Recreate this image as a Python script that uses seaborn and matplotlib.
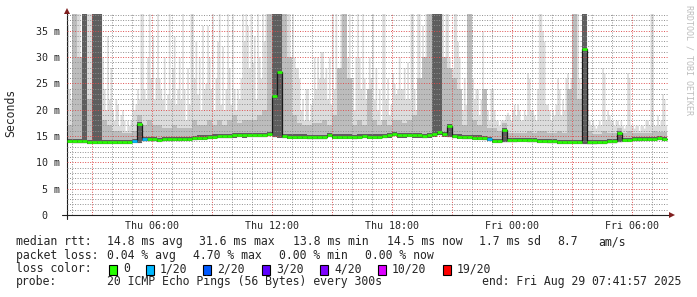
import numpy as np
import pandas as pd
import matplotlib
matplotlib.use("Agg")
import matplotlib.pyplot as plt
from matplotlib.ticker import MultipleLocator, FixedLocator
from matplotlib.patches import Rectangle
import seaborn as sns

# ---------------- data (ms; 15-minute steps from Thu 01:43) ----------------
start_hour = 1.72
step_hours = 0.25
sub_steps = 3          # max-ping streaks are read at 5-minute resolution

med = [
    14.1, 14.0, 14.0, 14.0, 13.9, 13.9, 13.9, 13.9, 13.9, 13.9,
    13.9, 13.9, 13.9, 14.1, 17.3, 14.4, 14.4, 14.4, 14.3, 14.4,
    14.4, 14.5, 14.4, 14.5, 14.5, 14.6, 14.7, 14.7, 14.8, 14.9,
    15.0, 15.0, 15.0, 15.1, 15.2, 15.1, 15.2, 15.2, 15.2, 15.2,
    15.4, 22.6, 27.1, 15.0, 14.9, 14.9, 14.9, 14.9, 14.8, 14.8,
    14.8, 14.8, 15.2, 14.9, 14.9, 14.9, 14.9, 14.8, 14.9, 15.0,
    14.9, 14.9, 14.9, 15.0, 15.1, 15.4, 15.1, 15.1, 15.2, 15.1,
    15.1, 15.0, 15.1, 15.3, 15.8, 15.3, 16.9, 15.0, 14.9, 14.8,
    14.8, 14.7, 14.7, 14.6, 14.5, 14.1, 14.1, 16.1, 14.2, 14.2,
    14.3, 14.3, 14.2, 14.2, 14.1, 14.1, 14.0, 14.0, 13.9, 13.9,
    13.9, 13.9, 13.9, 31.6, 13.8, 13.8, 13.9, 13.9, 14.0, 14.0,
    15.6, 14.3, 14.3, 14.4, 14.4, 14.5, 14.5, 14.5, 14.6, 14.5,
]

loss = [
    0, 0, 0, 0, 0, 0, 0, 0, 0, 0,
    0, 0, 0, 1, 0, 1, 0, 0, 0, 0,
    0, 0, 0, 0, 0, 0, 0, 0, 0, 0,
    0, 0, 0, 0, 0, 0, 0, 0, 0, 0,
    0, 0, 0, 0, 0, 0, 0, 0, 0, 0,
    0, 0, 0, 0, 0, 0, 0, 0, 0, 0,
    0, 0, 0, 0, 0, 0, 0, 0, 0, 0,
    0, 0, 0, 0, 0, 0, 0, 0, 0, 0,
    0, 0, 0, 0, 1, 0, 0, 0, 0, 0,
    0, 0, 0, 0, 0, 0, 0, 0, 0, 0,
    0, 0, 0, 0, 0, 0, 0, 0, 0, 0,
    0, 0, 0, 0, 0, 0, 0, 0, 0, 0,
]

lo = [
    13.7, 13.6, 13.6, 13.6, 13.5, 13.5, 13.5, 13.5, 13.5, 13.5,
    13.5, 13.5, 13.5, 13.7, 13.7, 14.0, 14.0, 14.0, 13.9, 14.0,
    14.0, 14.1, 14.0, 14.1, 14.1, 14.2, 14.3, 14.3, 14.4, 14.5,
    14.6, 14.6, 14.6, 14.7, 14.8, 14.7, 14.8, 14.8, 14.8, 14.8,
    15.0, 14.8, 14.7, 14.6, 14.5, 14.5, 14.5, 14.5, 14.4, 14.4,
    14.4, 14.4, 14.8, 14.5, 14.5, 14.5, 14.5, 14.4, 14.5, 14.6,
    14.5, 14.5, 14.5, 14.6, 14.7, 15.0, 14.7, 14.7, 14.8, 14.7,
    14.7, 14.6, 14.7, 14.9, 15.2, 14.9, 14.8, 14.6, 14.5, 14.4,
    14.4, 14.3, 14.3, 14.2, 14.1, 13.7, 13.7, 13.8, 13.8, 13.8,
    13.9, 13.9, 13.8, 13.8, 13.7, 13.7, 13.6, 13.6, 13.5, 13.5,
    13.5, 13.5, 13.5, 13.5, 13.4, 13.4, 13.5, 13.5, 13.6, 13.6,
    13.8, 13.9, 13.9, 14.0, 14.0, 14.1, 14.1, 14.1, 14.2, 14.1,
]

dark = [
    14.5, 14.4, 14.4, 39, 14.3, 39, 39, 14.3, 14.3, 14.3,
    14.3, 14.3, 14.3, 14.5, 17.7, 14.8, 14.8, 14.8, 14.7, 14.8,
    14.8, 14.9, 14.8, 14.9, 14.9, 15.0, 15.1, 15.1, 15.2, 15.3,
    15.4, 15.4, 15.4, 15.5, 15.6, 15.5, 15.6, 15.6, 15.6, 15.6,
    15.8, 39, 39, 15.4, 15.3, 15.3, 15.3, 15.3, 15.2, 15.2,
    15.2, 15.2, 15.6, 15.3, 15.3, 15.3, 15.3, 15.2, 15.3, 15.4,
    15.3, 15.3, 15.3, 15.4, 15.5, 15.8, 15.5, 15.5, 15.6, 15.5,
    15.5, 15.4, 15.5, 39, 39, 15.7, 17.3, 15.4, 15.3, 15.2,
    15.2, 15.1, 15.1, 15.0, 14.9, 14.5, 14.5, 16.5, 14.6, 14.6,
    14.7, 14.7, 14.6, 14.6, 14.5, 14.5, 14.4, 14.4, 14.3, 14.3,
    14.3, 14.3, 14.3, 39, 14.2, 14.2, 14.3, 14.3, 14.4, 14.4,
    16.0, 14.7, 14.7, 14.8, 14.8, 14.9, 14.9, 14.9, 15.0, 14.9,
]

mid = [
    17, 39, 30, 39, 22, 39, 39, 18, 17, 16,
    16, 15.5, 15.5, 16, 19, 17, 18, 17, 17, 16.5,
    16.5, 17, 16.5, 16.5, 16.5, 18, 17, 17, 18, 17,
    18, 17, 18, 19, 17.5, 18, 18, 18, 19, 20,
    39, 39, 39, 39, 30, 19, 17.5, 17, 17, 17.5,
    17.5, 18, 17, 19, 28, 39, 26, 17, 18, 17,
    24, 18, 17, 18, 17, 18, 18, 17.5, 18, 19,
    26, 30, 39, 39, 39, 30, 28, 26, 24, 17,
    39, 18, 17, 24, 16.5, 16.5, 16, 17.5, 15.5, 15.5,
    15.5, 15.5, 16, 15.5, 16, 16, 15.5, 15.5, 16, 15.5,
    24, 39, 22, 39, 16, 15.3, 15.3, 16, 15.5, 15.5,
    16.5, 15.5, 16, 15.5, 15.5, 15.5, 15.5, 16, 15.7, 15.7,
]

# max ping per 5-minute step (360 values)
top = [
    36, 24, 22, 30, 39, 39, 39, 39, 26, 39, 39, 39,
    39, 39, 39, 39, 39, 39, 39, 39, 39, 30, 24, 20,
    34, 22, 28, 20, 18, 22, 21, 17, 19, 20, 18, 16,
    18, 17, 18, 22, 20, 21, 24, 22, 39, 39, 24, 22,
    30, 39, 26, 34, 22, 26, 39, 26, 24, 22, 30, 20,
    23, 39, 22, 28, 34, 21, 24, 30, 22, 39, 24, 18,
    28, 21, 39, 39, 26, 33, 23, 30, 20, 36, 24, 25,
    36, 30, 24, 39, 20, 26, 33, 39, 21, 32, 20, 24,
    39, 28, 21, 39, 24, 20, 24, 22, 26, 39, 33, 39,
    36, 28, 39, 29, 34, 22, 39, 30, 26, 39, 33, 39,
    39, 22, 39, 39, 39, 39, 39, 39, 39, 39, 39, 36,
    39, 39, 26, 39, 30, 28, 28, 26, 20, 22, 18, 24,
    24, 18, 21, 22, 30, 24, 30, 26, 31, 31, 26, 28,
    22, 30, 21, 39, 24, 39, 28, 20, 39, 36, 39, 24,
    30, 39, 22, 26, 20, 30, 39, 30, 24, 39, 26, 22,
    24, 30, 26, 39, 22, 28, 20, 24, 18, 39, 39, 22,
    26, 19, 21, 27, 25, 23, 24, 30, 24, 24, 28, 22,
    29, 22, 39, 39, 24, 20, 39, 39, 26, 36, 30, 39,
    39, 36, 39, 39, 39, 39, 39, 39, 39, 39, 24, 39,
    39, 30, 26, 28, 39, 39, 33, 30, 22, 20, 26, 21,
    24, 39, 39, 26, 22, 24, 24, 19, 22, 35, 24, 20,
    20, 18, 24, 24, 20, 18, 18, 17, 18, 18, 18, 19,
    19.5, 19, 18, 20, 21, 19, 21, 20, 18, 18, 20, 19,
    27, 26, 20, 20, 19, 18, 24, 39, 39, 35, 33, 21,
    21, 20, 18, 20, 19, 21, 26, 24, 19, 22, 20, 26,
    27, 24, 26, 39, 39, 39, 39, 26, 24, 39, 39, 39,
    24, 18, 17, 18, 17, 16.5, 17, 18, 17, 28, 27, 18,
    20, 19, 18, 18, 17, 18, 18, 17, 18, 17, 16.5, 17,
    27, 26, 17, 17, 16.5, 17, 17, 16, 17, 17, 16.5, 18,
    18, 17, 39, 39, 17, 17, 19, 17, 18, 23, 22, 17,
]

y_ticks = [0, 5, 10, 15, 20, 25, 30, 35]
y_tick_labels = ["0  ", "5 m", "10 m", "15 m", "20 m", "25 m", "30 m", "35 m"]
x_ticks = [3, 6, 9, 12, 15, 18, 21, 24, 27, 30]
x_tick_labels = ["", "Thu 06:00", "", "Thu 12:00", "", "Thu 18:00", "",
                 "Fri 00:00", "", "Fri 06:00"]

loss_labels = ["0", "1/20", "2/20", "3/20", "4/20", "10/20", "19/20"]
loss_colors = ["#26ff00", "#00b8ff", "#0059ff", "#5e00ff", "#7e00ff",
               "#dd00ff", "#ff0000"]

rtt_items = ["median rtt:", "14.8 ms avg", "31.6 ms max", "13.8 ms min",
             "14.5 ms now", "1.7 ms sd", "8.7", "am/s"]
rtt_x = [16, 107, 199, 293, 387, 479, 557, 598]
pl_items = ["packet loss:", "0.04 % avg", "4.70 % max", "0.00 % min",
            "0.00 % now"]
pl_x = [16, 107, 193, 279, 365]
box_x = [108.7, 145.7, 203, 261.7, 320, 377.7, 442.7]
probe_text = "20 ICMP Echo Pings (56 Bytes) every 300s"
end_text = "end: Fri Aug 29 07:41:57 2025"

# ---------------- figure ----------------
W, H = 697, 297
sns.set_style("white")
plt.rcParams["font.family"] = ["DejaVu Sans Mono", "DejaVu Sans"]

fig = plt.figure(figsize=(W / 100, H / 100), dpi=100)
fig.patch.set_facecolor("white")
ax_l, ax_r, ax_t, ax_b = 66.7, 668.0, 14.0, 215.0
ax = fig.add_axes([ax_l / W, 1 - ax_b / H, (ax_r - ax_l) / W, (ax_b - ax_t) / H])
ax.set_facecolor("white")

n = len(med)
t = start_hour + step_hours * np.arange(n)
edges = np.append(t, t[-1] + step_hours)
fine_step = step_hours / sub_steps
t_fine = start_hour + fine_step * np.arange(len(top))
edges_fine = np.append(t_fine, t_fine[-1] + fine_step)

def ext(a):
    a = np.asarray(a, dtype=float)
    return np.append(a, a[-1])

# smoke layers
lo_fine = np.repeat(np.asarray(lo, dtype=float), sub_steps)
ax.fill_between(edges_fine, ext(lo_fine), ext(top), step="post",
                color="#dcdcdc", lw=0, zorder=1)
ax.fill_between(edges, ext(lo), ext(mid), step="post", color="#bcbcbc",
                lw=0, zorder=1.1)
ax.fill_between(edges, ext(lo), ext(dark), step="post", color="#5e5e5e",
                lw=0, zorder=1.2)

# median: dark step connectors, then loss-coloured segments
sns.lineplot(x=edges, y=ext(med), drawstyle="steps-post", estimator=None,
             color="#1a1a1a", lw=0.9, ax=ax, zorder=3)
seg_rows = []
for i in range(n):
    for tt in (t[i], t[i] + step_hours):
        seg_rows.append({"t": tt, "ms": med[i], "seg": i,
                         "loss": loss_labels[loss[i]]})
seg_df = pd.DataFrame(seg_rows)
sns.lineplot(data=seg_df, x="t", y="ms", units="seg", estimator=None, hue="loss",
             palette=dict(zip(loss_labels, loss_colors)), lw=1.9, legend=False,
             ax=ax, zorder=4, solid_capstyle="butt")

ax.set_xlim(start_hour, start_hour + (ax_r - ax_l) / 20.0)
ax.set_ylim(0, (ax_b - ax_t) / 5.266)

ax.xaxis.set_major_locator(FixedLocator(x_ticks))
ax.set_xticklabels(x_tick_labels)
ax.xaxis.set_minor_locator(MultipleLocator(1))
ax.yaxis.set_major_locator(FixedLocator(y_ticks))
ax.set_yticklabels(y_tick_labels)
ax.yaxis.set_minor_locator(MultipleLocator(1))

grid_c = (0.56, 0.56, 0.56, 0.7)
mgrid_c = (0.87, 0.31, 0.31, 0.55)
ax.set_axisbelow(False)
ax.grid(which="minor", color=grid_c, ls=(0, (1, 1.6)), lw=0.7)
ax.grid(which="major", color=mgrid_c, ls=(0, (1, 1.6)), lw=0.7)
for gl in ax.get_xgridlines() + ax.get_ygridlines():
    gl.set_zorder(2)

ax.tick_params(axis="both", which="major", length=2, width=0.7, color=mgrid_c,
               direction="out", labelsize=7.2)
ax.tick_params(axis="both", which="minor", length=1.5, width=0.7, color=grid_c,
               direction="out")
ax.tick_params(axis="x", which="major", pad=2.2)
ax.tick_params(axis="y", which="major", pad=3.0)

axis_c = (0.12, 0.12, 0.12)
for s in ["top", "right"]:
    ax.spines[s].set_visible(False)
for s in ["left", "bottom"]:
    ax.spines[s].set_color(axis_c)
    ax.spines[s].set_linewidth(0.8)
ax.set_xlabel("")
ax.set_ylabel("")
# axis lines extend slightly past the origin, as rrdtool draws them
ax.plot([-0.008, 0], [0, 0], color=axis_c, lw=0.8, transform=ax.transAxes, clip_on=False)
ax.plot([0, 0], [-0.02, 0], color=axis_c, lw=0.8, transform=ax.transAxes, clip_on=False)

arrow_c = (0.5, 0.12, 0.12)
ax.plot([0], [1.016], marker="^", ms=4.2, color=arrow_c, transform=ax.transAxes,
        clip_on=False, mew=0)
ax.plot([1.006], [0], marker=">", ms=4.2, color=arrow_c, transform=ax.transAxes,
        clip_on=False, mew=0)

# y label
fig.text(11 / W, 1 - 113 / H, "Seconds", rotation=90, ha="center", va="center",
         fontsize=8.3)
# watermark
fig.text(688.5 / W, 1 - 60 / H, "RRDTOOL / TOBI OETIKER", rotation=270,
         ha="center", va="center", fontsize=6.0, color="#bdbdbd")

# legend block
fs = 8.3
def ftext(x, y_base, s, ha="left"):
    fig.text(x / W, 1 - y_base / H, s, ha=ha, va="baseline", fontsize=fs)

base = [245.3, 258.7, 272.1, 285.5]
for s, x in zip(rtt_items, rtt_x):
    ftext(x, base[0], s)
for s, x in zip(pl_items, pl_x):
    ftext(x, base[1], s)
ftext(16, base[2], "loss color:")
for lab, c, bx in zip(loss_labels, loss_colors, box_x):
    fig.patches.append(Rectangle((bx / W, 1 - 274.7 / H), 8 / W, 9.4 / H,
                                 transform=fig.transFigure, facecolor=c,
                                 edgecolor="black", lw=0.8))
    ftext(bx + 14.3, base[2], lab)
ftext(16, base[3], "probe:")
ftext(107, base[3], probe_text)
ftext(681, base[3], end_text, ha="right")

fig.savefig("out.png", dpi=100, facecolor="white")
